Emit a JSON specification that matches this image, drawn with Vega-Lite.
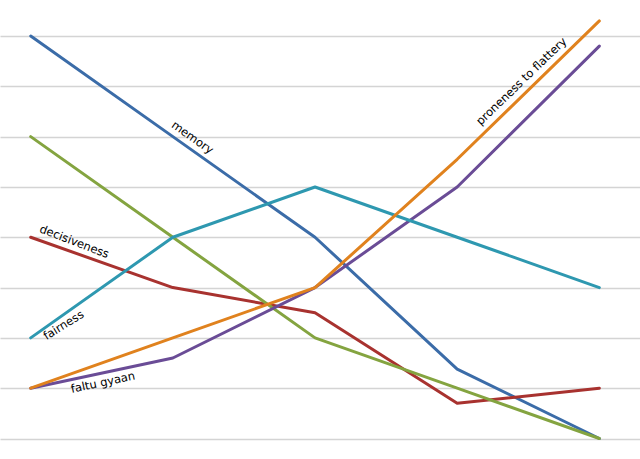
{
  "$schema": "https://vega.github.io/schema/vega-lite/v6.json",
  "width": 640,
  "height": 459,
  "autosize": "none",
  "padding": 0,
  "background": "white",
  "config": {"view": {"stroke": null}},
  "datasets": {
    "series": [
      {"series": "memory", "x": 0, "v": 8},
      {"series": "memory", "x": 1, "v": 6},
      {"series": "memory", "x": 2, "v": 4},
      {"series": "memory", "x": 3, "v": 1.38},
      {"series": "memory", "x": 4, "v": 0},
      {"series": "decisiveness", "x": 0, "v": 4},
      {"series": "decisiveness", "x": 1, "v": 3},
      {"series": "decisiveness", "x": 2, "v": 2.5},
      {"series": "decisiveness", "x": 3, "v": 0.7},
      {"series": "decisiveness", "x": 4, "v": 1},
      {"series": "other", "x": 0, "v": 6},
      {"series": "other", "x": 1, "v": 4},
      {"series": "other", "x": 2, "v": 2},
      {"series": "other", "x": 3, "v": 1},
      {"series": "other", "x": 4, "v": 0},
      {"series": "faltu gyaan", "x": 0, "v": 1},
      {"series": "faltu gyaan", "x": 1, "v": 1.6},
      {"series": "faltu gyaan", "x": 2, "v": 3},
      {"series": "faltu gyaan", "x": 3, "v": 5},
      {"series": "faltu gyaan", "x": 4, "v": 7.8},
      {"series": "fairness", "x": 0, "v": 2},
      {"series": "fairness", "x": 1, "v": 4},
      {"series": "fairness", "x": 2, "v": 5},
      {"series": "fairness", "x": 3, "v": 4},
      {"series": "fairness", "x": 4, "v": 3},
      {"series": "proneness to flattery", "x": 0, "v": 1},
      {"series": "proneness to flattery", "x": 1, "v": 2},
      {"series": "proneness to flattery", "x": 2, "v": 3},
      {"series": "proneness to flattery", "x": 3, "v": 5.55},
      {"series": "proneness to flattery", "x": 4, "v": 8.3}
    ],
    "labels": [
      {"label": "memory", "x": 1.135, "v": 5.97},
      {"label": "proneness to flattery", "x": 3.456, "v": 7.09},
      {"label": "decisiveness", "x": 0.305, "v": 3.9},
      {"label": "fairness", "x": 0.234, "v": 2.24},
      {"label": "faltu gyaan", "x": 0.509, "v": 1.1}
    ]
  },
  "layer": [
    {
      "data": {"name": "series"},
      "mark": {"type": "line", "strokeWidth": 3, "strokeCap": "round", "strokeJoin": "round"},
      "encoding": {
        "x": {"field": "x", "type": "quantitative", "scale": {"domain": [-0.216, 4.286], "nice": false, "zero": false}, "axis": null},
        "y": {"field": "v", "type": "quantitative", "scale": {"domain": [-0.407, 8.716], "nice": false, "zero": false},
              "axis": {"values": [0,1,2,3,4,5,6,7,8], "grid": true, "gridColor": "#d4d4d4", "gridWidth": 1.5, "labels": false, "ticks": false, "domain": false, "title": null}},
        "color": {"field": "series", "type": "nominal", "legend": null,
                  "scale": {"domain": ["memory", "decisiveness", "other", "faltu gyaan", "fairness", "proneness to flattery"],
                            "range": ["#3b6ca8", "#a8322f", "#84a440", "#6a4c96", "#2e98b0", "#e0821e"]}},
        "order": {"field": "x", "type": "quantitative"}
      }
    },
    {
      "data": {"name": "labels"},
      "transform": [{"filter": "datum.label == 'memory'"}],
      "mark": {"type": "text", "angle": 35, "font": "DejaVu Sans", "fontSize": 11.5, "color": "#000000", "align": "center", "baseline": "middle"},
      "encoding": {"x": {"field": "x", "type": "quantitative"}, "y": {"field": "v", "type": "quantitative"}, "text": {"field": "label"}}
    },
    {
      "data": {"name": "labels"},
      "transform": [{"filter": "datum.label == 'proneness to flattery'"}],
      "mark": {"type": "text", "angle": -44, "font": "DejaVu Sans", "fontSize": 11.5, "color": "#000000", "align": "center", "baseline": "middle"},
      "encoding": {"x": {"field": "x", "type": "quantitative"}, "y": {"field": "v", "type": "quantitative"}, "text": {"field": "label"}}
    },
    {
      "data": {"name": "labels"},
      "transform": [{"filter": "datum.label == 'decisiveness'"}],
      "mark": {"type": "text", "angle": 21, "font": "DejaVu Sans", "fontSize": 11.5, "color": "#000000", "align": "center", "baseline": "middle"},
      "encoding": {"x": {"field": "x", "type": "quantitative"}, "y": {"field": "v", "type": "quantitative"}, "text": {"field": "label"}}
    },
    {
      "data": {"name": "labels"},
      "transform": [{"filter": "datum.label == 'fairness'"}],
      "mark": {"type": "text", "angle": -32, "font": "DejaVu Sans", "fontSize": 11.5, "color": "#000000", "align": "center", "baseline": "middle"},
      "encoding": {"x": {"field": "x", "type": "quantitative"}, "y": {"field": "v", "type": "quantitative"}, "text": {"field": "label"}}
    },
    {
      "data": {"name": "labels"},
      "transform": [{"filter": "datum.label == 'faltu gyaan'"}],
      "mark": {"type": "text", "angle": -12, "font": "DejaVu Sans", "fontSize": 11.5, "color": "#000000", "align": "center", "baseline": "middle"},
      "encoding": {"x": {"field": "x", "type": "quantitative"}, "y": {"field": "v", "type": "quantitative"}, "text": {"field": "label"}}
    }
  ]
}
